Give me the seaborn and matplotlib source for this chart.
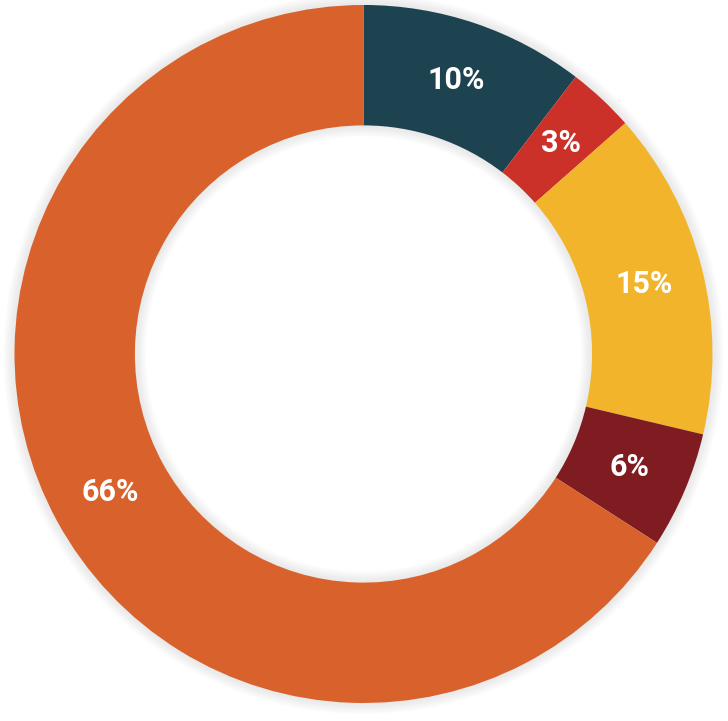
import matplotlib
matplotlib.use('Agg')
import matplotlib.pyplot as plt
from matplotlib.patches import Wedge
import seaborn as sns

# Datos del gráfico (sentido horario desde arriba), medidos del ángulo de cada sector
shares = [10.4, 3.1, 15.2, 5.4, 65.9]
labels = ['10%', '3%', '15%', '6%', '66%']
colors = ['#1d4250', '#cc3129', '#f2b42b', '#7e1c22', '#d9622c']

sns.set_style('white')
plt.rcParams['font.family'] = ['Roboto', 'DejaVu Sans']

fig = plt.figure(figsize=(7.28, 7.21), dpi=100)
ax = fig.add_axes([0, 0, 1, 1])

# sombra suave alrededor del anillo
inner = 0.655
for k in range(1, 9):
    d = 0.004 * k
    ax.add_patch(Wedge((0, 0), 1 + d, 0, 360, width=1 - inner + 2 * d,
                       facecolor='#9a9a9a', edgecolor='none', alpha=0.025, zorder=0))

palette = sns.color_palette(colors)
wedges, texts = ax.pie(shares, colors=palette, startangle=90, counterclock=False,
                       radius=1.0, wedgeprops=dict(width=1 - inner, edgecolor='none'),
                       labels=labels, labeldistance=(1 + inner) / 2,
                       textprops=dict(color='white', fontsize=22, fontweight='bold',
                                      ha='center', va='center'))
for w in wedges:
    w.set_zorder(2)
for t in texts:
    t.set_zorder(3)

ax.set_xlim(-1.0415, 1.0444)
ax.set_ylim(-1.0516, 1.0143)
ax.set_aspect('equal')
ax.axis('off')

fig.savefig('out.png', dpi=100, facecolor='white')
